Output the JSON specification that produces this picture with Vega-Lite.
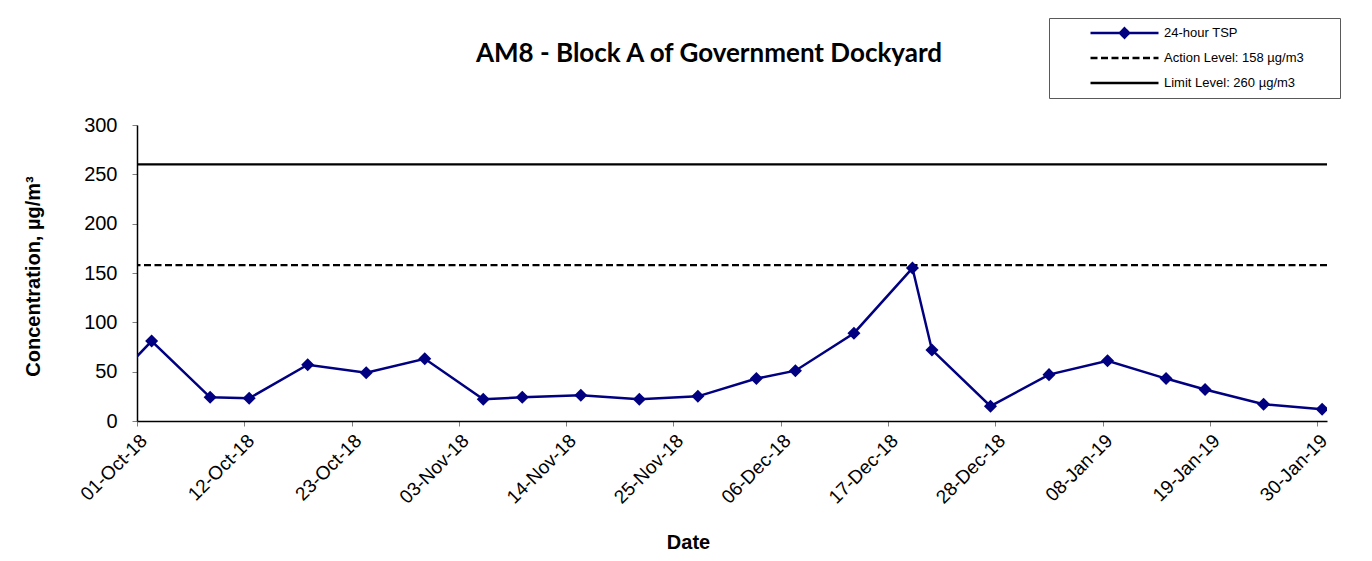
{
  "$schema": "https://vega.github.io/schema/vega-lite/v6.json",
  "width": 1190,
  "height": 296,
  "autosize": {"type": "none"},
  "padding": {"left": 137, "top": 125, "right": 45, "bottom": 140},
  "background": "white",
  "title": {
    "text": "AM8 - Block A of Government Dockyard",
    "font": "Lato",
    "fontSize": 26,
    "fontWeight": "bold",
    "color": "black",
    "anchor": "middle",
    "frame": "group",
    "baseline": "alphabetic",
    "offset": 0,
    "dy": 70,
    "dx": -23
  },
  "datasets": {
    "tsp": [
      {"date": "2018-09-26T12:00:00", "value": 19},
      {"date": "2018-10-02T12:00:00", "value": 81},
      {"date": "2018-10-08T12:00:00", "value": 24},
      {"date": "2018-10-12T12:00:00", "value": 23},
      {"date": "2018-10-18T12:00:00", "value": 57},
      {"date": "2018-10-24T12:00:00", "value": 49},
      {"date": "2018-10-30T12:00:00", "value": 63},
      {"date": "2018-11-05T12:00:00", "value": 22},
      {"date": "2018-11-09T12:00:00", "value": 24},
      {"date": "2018-11-15T12:00:00", "value": 26},
      {"date": "2018-11-21T12:00:00", "value": 22},
      {"date": "2018-11-27T12:00:00", "value": 25},
      {"date": "2018-12-03T12:00:00", "value": 43},
      {"date": "2018-12-07T12:00:00", "value": 51},
      {"date": "2018-12-13T12:00:00", "value": 89},
      {"date": "2018-12-19T12:00:00", "value": 155},
      {"date": "2018-12-21T12:00:00", "value": 72},
      {"date": "2018-12-27T12:00:00", "value": 15},
      {"date": "2019-01-02T12:00:00", "value": 47},
      {"date": "2019-01-08T12:00:00", "value": 61},
      {"date": "2019-01-14T12:00:00", "value": 43},
      {"date": "2019-01-18T12:00:00", "value": 32},
      {"date": "2019-01-24T12:00:00", "value": 17},
      {"date": "2019-01-30T12:00:00", "value": 12}
    ],
    "levels": [
      {"level": "Action Level: 158 µg/m3", "value": 158},
      {"level": "Limit Level: 260 µg/m3", "value": 260}
    ]
  },
  "layer": [
    {
      "data": {"name": "levels"},
      "mark": {"type": "rule", "strokeWidth": 2.2},
      "encoding": {
        "y": {
          "field": "value",
          "type": "quantitative",
          "scale": {"domain": [0, 300], "nice": false},
          "axis": {
            "values": [0, 50, 100, 150, 200, 250, 300],
            "labelFont": "Liberation Sans",
            "labelFontSize": 20,
            "labelColor": "black",
            "tickColor": "#808080",
            "tickSize": 5,
            "labelPadding": 15,
            "domainColor": "black",
            "grid": false,
            "title": "Concentration, µg/m³",
            "titleFont": "Liberation Sans",
            "titleFontSize": 20,
            "titleFontWeight": "bold",
            "titleColor": "black",
            "titleX": -104,
            "titleY": 151,
            "titleAngle": -90,
            "titleAlign": "center",
            "titleBaseline": "middle"
          }
        },
        "color": {
          "field": "level",
          "type": "nominal",
          "scale": {
            "domain": ["24-hour TSP", "Action Level: 158 µg/m3", "Limit Level: 260 µg/m3"],
            "range": ["#000080", "#000000", "#000000"]
          },
          "legend": {
            "title": null,
            "orient": "none",
            "legendX": 912,
            "legendY": -107,
            "direction": "vertical",
            "symbolType": "M-0.5,0H0.5",
            "symbolSize": 18496,
            "symbolStrokeWidth": 2,
            "clipHeight": 18,
            "rowPadding": 7,
            "labelOffset": -30,
            "labelLimit": 400,
            "padding": 6,
            "strokeColor": "#595959",
            "fillColor": "white",
            "labelFont": "Liberation Sans",
            "labelFontSize": 13,
            "labelColor": "black",
            "labelExpr": "datum.label + '\u2800\u2800\u2800'",
            "encode": {
              "symbols": {
                "update": {
                  "shape": {"signal": "datum.value === '24-hour TSP' ? 'M-0.5,0H0.5M0,-0.068L0.068,0L0,0.068L-0.068,0Z' : 'M-0.5,0H0.5'"},
                  "stroke": {"signal": "datum.value === '24-hour TSP' ? '#000080' : '#000000'"},
                  "fill": {"signal": "datum.value === '24-hour TSP' ? '#000080' : 'transparent'"},
                  "strokeDash": {"signal": "slice(datum.value, 0, 6) === 'Action' ? [7, 3.5] : [1, 0]"},
                  "strokeWidth": {"value": 2.5},
                  "opacity": {"value": 1}
                }
              }
            }
          }
        },
        "strokeDash": {
          "field": "level",
          "type": "nominal",
          "legend": null,
          "scale": {
            "domain": ["Action Level: 158 µg/m3", "Limit Level: 260 µg/m3"],
            "range": [[7, 3.5], [1, 0]]
          }
        }
      }
    },
    {
      "data": {"name": "tsp"},
      "mark": {"type": "line", "clip": true, "strokeWidth": 2.5},
      "encoding": {
        "x": {
          "field": "date",
          "type": "temporal",
          "scale": {"domain": [{"year": 2018, "month": 10, "date": 1}, {"year": 2019, "month": 1, "date": 31}]},
          "axis": {
            "values": [
              {"year": 2018, "month": 10, "date": 1},
              {"year": 2018, "month": 10, "date": 12},
              {"year": 2018, "month": 10, "date": 23},
              {"year": 2018, "month": 11, "date": 3},
              {"year": 2018, "month": 11, "date": 14},
              {"year": 2018, "month": 11, "date": 25},
              {"year": 2018, "month": 12, "date": 6},
              {"year": 2018, "month": 12, "date": 17},
              {"year": 2018, "month": 12, "date": 28},
              {"year": 2019, "month": 1, "date": 8},
              {"year": 2019, "month": 1, "date": 19},
              {"year": 2019, "month": 1, "date": 30}
            ],
            "format": "%d-%b-%y",
            "labelAngle": -45,
            "labelFont": "Liberation Sans",
            "labelFontSize": 19,
            "labelColor": "black",
            "labelPadding": 5,
            "labelOverlap": false,
            "labelBound": false,
            "labelFlush": false,
            "tickColor": "#808080",
            "tickSize": 5,
            "domainColor": "black",
            "grid": false,
            "title": "Date",
            "titleFont": "Liberation Sans",
            "titleFontSize": 20,
            "titleFontWeight": "bold",
            "titleColor": "black",
            "titleX": 551,
            "titleY": 127,
            "titleAlign": "center",
            "titleBaseline": "alphabetic"
          }
        },
        "y": {"field": "value", "type": "quantitative"},
        "color": {"datum": "24-hour TSP"}
      }
    },
    {
      "data": {"name": "tsp"},
      "mark": {"type": "point", "shape": "diamond", "filled": true, "size": 170, "opacity": 1, "clip": true},
      "encoding": {
        "x": {"field": "date", "type": "temporal"},
        "y": {"field": "value", "type": "quantitative"},
        "color": {"datum": "24-hour TSP"}
      }
    }
  ],
  "config": {
    "view": {"stroke": null},
    "axis": {"domainWidth": 1.5, "tickWidth": 1}
  }
}
